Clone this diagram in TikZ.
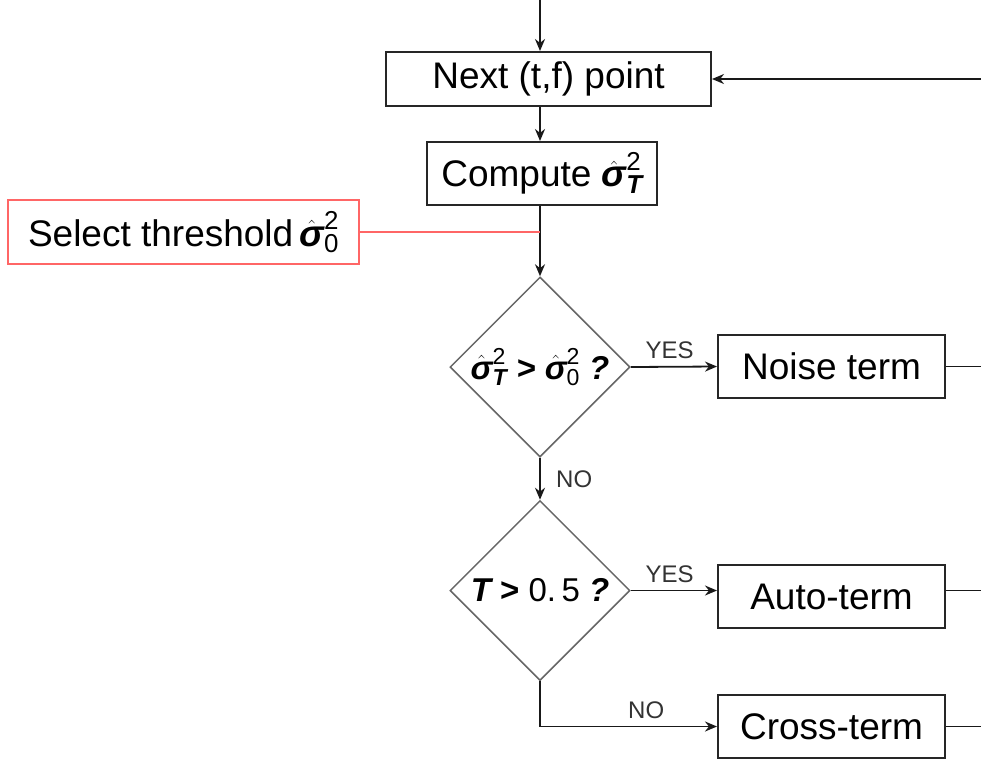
\documentclass[tikz,border=0pt]{standalone}
\usepackage{fontspec}
\usepackage{amsmath}
\setmainfont{Liberation Sans}
\usetikzlibrary{shapes.geometric,arrows.meta}
\newcommand{\bit}[1]{\text{\bfseries\itshape #1}}
\newcommand{\sighat}{\hat{\bit{σ}}}
\newcommand{\sigT}{\ensuremath{\sighat^{\text{2}}_{\bit{T}}}}
\newcommand{\sigZ}{\ensuremath{\sighat^{\text{2}}_{\text{0}}}}
\tikzset{
  box/.style={draw=black!85, line width=2pt, rectangle, inner sep=0pt, font=\fontsize{37}{42}\selectfont},
  redbox/.style={box, draw=red!60},
  dec/.style={draw=black!60, line width=1.5pt, shape=diamond, minimum size=180pt, inner sep=-40pt, font=\fontsize{33}{36}\selectfont},
  arr/.style={draw=black!90, line width=1.8pt, -{Stealth[length=12pt,width=10pt]}},
  ln/.style={draw=black!90, line width=1.8pt},
  lab/.style={font=\fontsize{24}{28}\selectfont, text=black!80}
}
\begin{document}
\begin{tikzpicture}[x=1pt,y=-1pt]
\useasboundingbox (0,0) rectangle (981,758);
\coordinate (top) at (540,0);
\coordinate (r1) at (982,79);
\coordinate (r2) at (982,366.5);
\coordinate (r3) at (982,596.5);
\coordinate (r4) at (982,726.5);
\node[box, minimum width=325pt, minimum height=54pt] (next) at (548.5,79) {Next (t,f) point};
\node[box, minimum width=230pt, minimum height=63pt] (compute) at (542,173.5) {Compute \sigT};
\node[redbox, minimum width=351pt, minimum height=64pt] (sel) at (183.5,232) {Select threshold\,\sigZ};
\node[dec] (d1) at (540,367) {\sigT\ \textbf{\textit{>}} \sigZ\ \textbf{\textit{?}}};
\node[dec] (d2) at (540,590.5) {\bit{T} \textbf{>} 0.\,5 \textbf{\textit{?}}};
\node[box, minimum width=227pt, minimum height=63pt] (noise) at (831.5,366.5) {Noise term};
\node[box, minimum width=227pt, minimum height=63pt] (auto) at (831.5,596.5) {Auto-term};
\node[box, minimum width=227pt, minimum height=63pt] (cross) at (831.5,726.5) {Cross-term};
\draw[arr] (top) -- (top |- next.north);
\draw[arr] (r1) -- (next.east);
\draw[arr] (next.south -| top) -- (compute.north -| top);
\draw[arr] (compute.south -| top) -- (d1.north);
\draw[draw=red!60, line width=2pt] (sel.east) -- (sel.east -| top);
\draw[arr] (d1.east) -- (noise.west) node[lab, pos=0.45, above=4pt] {YES};
\draw[ln] (noise.east) -- (r2);
\draw[arr] (d1.south) -- (d2.north) node[lab, midway, right=12pt] {NO};
\draw[arr] (d2.east) -- (d2.east -| auto.west) node[lab, pos=0.45, above=4pt] {YES};
\draw[ln] (auto.east |- d2.east) -- (auto.east |- d2.east -| r3);
\draw[arr] (d2.south) |- (cross.west) node[lab, pos=0.8, above=4pt] {NO};
\draw[ln] (cross.east) -- (r4);
\end{tikzpicture}
\end{document}
